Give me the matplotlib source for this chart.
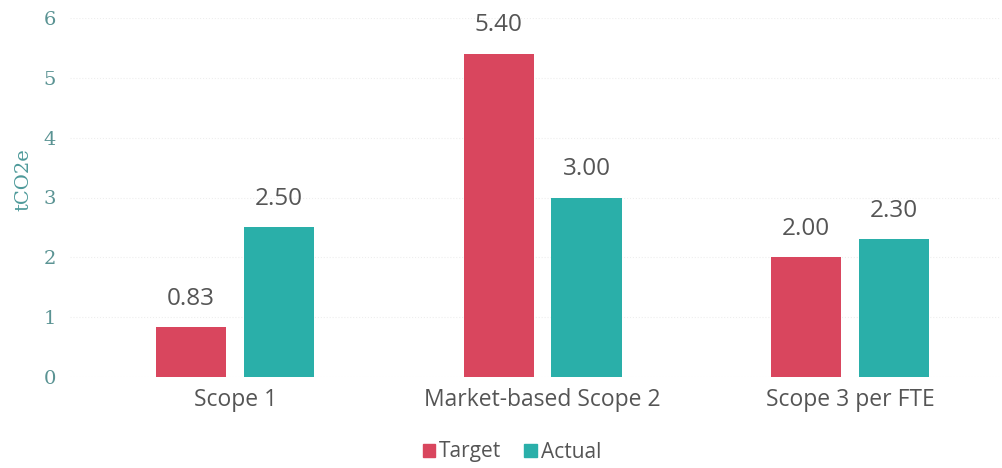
import numpy as np
import matplotlib.pyplot as plt
from matplotlib.patches import Patch

categories = ['Scope 1', 'Market-based Scope 2', 'Scope 3 per FTE']
target = [0.83, 5.40, 2.00]
actual = [2.50, 3.00, 2.30]
target_labels = ['0.83', '5.40', '2.00']
actual_labels = ['2.50', '3.00', '2.30']

RED = '#D9465E'
TEAL = '#2AAFA9'
GREY = '#555555'
FONT = 'Open Sans'

fig = plt.figure(figsize=(10.03, 4.68), dpi=100)
ax = fig.add_axes([70 / 1003, (468 - 377) / 468, 930 / 1003, (377 - 18) / 468])

x = np.arange(len(categories))
w = 0.228
off = 0.143

b1 = ax.bar(x - off, target, w, color=RED, zorder=2)
b2 = ax.bar(x + off, actual, w, color=TEAL, zorder=2)

# value labels above bars
for bars, labs in ((b1, target_labels), (b2, actual_labels)):
    for b, t in zip(bars, labs):
        ax.annotate(t, (b.get_x() + b.get_width() / 2, b.get_height()),
                    xytext=(0, 12), textcoords='offset points',
                    ha='center', va='bottom', fontsize=17.5, color=GREY,
                    family=FONT)

ax.set_xlim(-0.537, 2.488)
ax.set_ylim(0, 6)
ax.set_yticks(range(0, 7))
ax.set_xticks(x)
ax.set_xticklabels(categories, fontsize=16.5, color=GREY, family=FONT)
ax.tick_params(axis='x', length=0, pad=8)
ax.tick_params(axis='y', length=0, pad=10, labelsize=14, labelcolor='#5A9393')
for lab in ax.get_yticklabels():
    lab.set_family('DejaVu Serif')

ax.set_ylabel('tCO2e', fontsize=14, color='#4E9A9A', family='DejaVu Serif')
ax.yaxis.set_label_coords(-0.04, 0.55)

ax.grid(axis='y', color='#eeeeee', linewidth=0.8, linestyle=':', zorder=0)
for s in ax.spines.values():
    s.set_visible(False)

handles = [Patch(color=RED, label='Target'), Patch(color=TEAL, label='Actual')]
fig.legend(handles=handles, loc='center', bbox_to_anchor=(512 / 1003, 1 - 452 / 468),
           ncol=2, frameon=False, handlelength=0.6, handleheight=0.6,
           handletextpad=0.2, columnspacing=1.1, labelcolor=GREY,
           prop={'family': FONT, 'size': 15})

fig.savefig('out.png', dpi=100)
